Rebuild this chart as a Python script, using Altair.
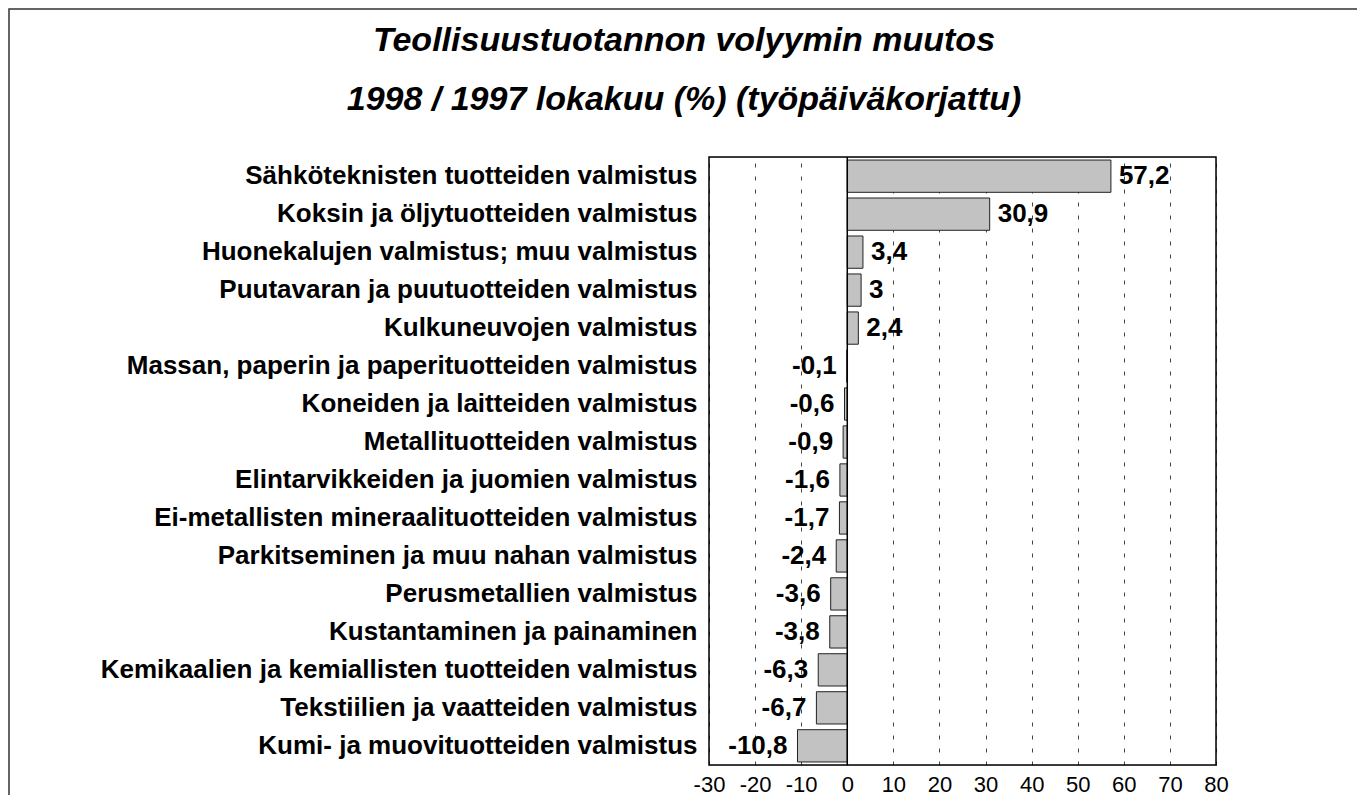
import altair as alt
import pandas as pd

categories = [
    "Sähköteknisten tuotteiden valmistus",
    "Koksin ja öljytuotteiden valmistus",
    "Huonekalujen valmistus; muu valmistus",
    "Puutavaran ja puutuotteiden valmistus",
    "Kulkuneuvojen valmistus",
    "Massan, paperin ja paperituotteiden valmistus",
    "Koneiden ja laitteiden valmistus",
    "Metallituotteiden valmistus",
    "Elintarvikkeiden ja juomien valmistus",
    "Ei-metallisten mineraalituotteiden valmistus",
    "Parkitseminen ja muu nahan valmistus",
    "Perusmetallien valmistus",
    "Kustantaminen ja painaminen",
    "Kemikaalien ja kemiallisten tuotteiden valmistus",
    "Tekstiilien ja vaatteiden valmistus",
    "Kumi- ja muovituotteiden valmistus",
]
values = [57.2, 30.9, 3.4, 3.0, 2.4, -0.1, -0.6, -0.9, -1.6, -1.7, -2.4, -3.6, -3.8, -6.3, -6.7, -10.8]
value_labels = ["57,2", "30,9", "3,4", "3", "2,4", "-0,1", "-0,6", "-0,9", "-1,6", "-1,7",
                "-2,4", "-3,6", "-3,8", "-6,3", "-6,7", "-10,8"]
x_ticks = [-30, -20, -10, 0, 10, 20, 30, 40, 50, 60, 70, 80]

title_lines = ["Teollisuustuotannon volyymin muutos", "1998 / 1997 lokakuu (%) (työpäiväkorjattu)"]

FONT = "Liberation Sans, Arial, Helvetica, sans-serif"

df = pd.DataFrame({"cat": categories, "value": values, "label": value_labels})

W, H = 507, 608

y_enc = alt.Y(
    "cat:N",
    sort=categories,
    scale=alt.Scale(paddingInner=0.15, paddingOuter=0.08),
    axis=alt.Axis(
        title=None, labelFont=FONT, labelFontSize=26, labelFontWeight="bold",
        labelColor="black", labelPadding=12, ticks=False, domain=False, labelLimit=0,
    ),
)
x_scale = alt.Scale(domain=[-30, 80], nice=False, zero=False)

base = alt.Chart(df)

bars = base.mark_bar(fill="#c2c2c2", stroke="#222222", strokeWidth=1).encode(
    y=y_enc,
    x=alt.X(
        "value:Q", scale=x_scale,
        axis=alt.Axis(
            values=x_ticks, title=None, grid=True, gridDash=[4, 9], gridColor="#444444",
            gridWidth=1, ticks=False, domain=False, labelFont=FONT, labelFontSize=22,
            labelColor="black", labelPadding=9, labelFlush=False,
            labelExpr="datum.value",
        ),
    ),
    x2=alt.datum(0),
)

zero_line = alt.Chart(pd.DataFrame({"z": [0]})).mark_rule(color="black", strokeWidth=1.5).encode(
    x=alt.X("z:Q", scale=x_scale)
)

pos_text = base.transform_filter("datum.value >= 0").mark_text(
    align="left", baseline="middle", dx=8, font=FONT, fontSize=26, fontWeight="bold", color="black"
).encode(y=alt.Y("cat:N", sort=categories), x=alt.X("value:Q", scale=x_scale), text="label:N")

neg_text = base.transform_filter("datum.value < 0").mark_text(
    align="right", baseline="middle", dx=-10, font=FONT, fontSize=26, fontWeight="bold", color="black"
).encode(y=alt.Y("cat:N", sort=categories), x=alt.X("value:Q", scale=x_scale), text="label:N")

one = pd.DataFrame({"a": [0]})

plot_border = alt.Chart(one).mark_rect(fill=None, stroke="black", strokeWidth=1.5).encode(
    x=alt.value(0), x2=alt.value(W), y=alt.value(0), y2=alt.value(H)
)

frame = alt.Chart(one).mark_rect(
    fill=None, stroke="#333333", strokeWidth=1.5, clip=False
).encode(
    x=alt.value(-700), x2=alt.value(650), y=alt.value(-148), y2=alt.value(700)
)

title_df = pd.DataFrame({"t": title_lines, "row": [0, 1]})
title1 = alt.Chart(title_df).transform_filter("datum.row == 0").mark_text(
    font=FONT, fontSize=34, fontStyle="italic", fontWeight="bold", color="black",
    align="center", baseline="alphabetic",
).encode(text="t:N", x=alt.value(-25), y=alt.value(-106))
title2 = alt.Chart(title_df).transform_filter("datum.row == 1").mark_text(
    font=FONT, fontSize=34, fontStyle="italic", fontWeight="bold", color="black",
    align="center", baseline="alphabetic",
).encode(text="t:N", x=alt.value(-25), y=alt.value(-47))

chart = alt.layer(bars, zero_line, pos_text, neg_text, plot_border, frame, title1, title2).properties(
    width=W,
    height=H,
    padding={"left": 701, "top": 149, "right": 141, "bottom": 30},
    autosize=alt.AutoSizeParams(type="none"),
).configure_view(stroke=None).configure(background="white")

chart.save("out.html", embed_options={"renderer": "svg", "actions": False})
